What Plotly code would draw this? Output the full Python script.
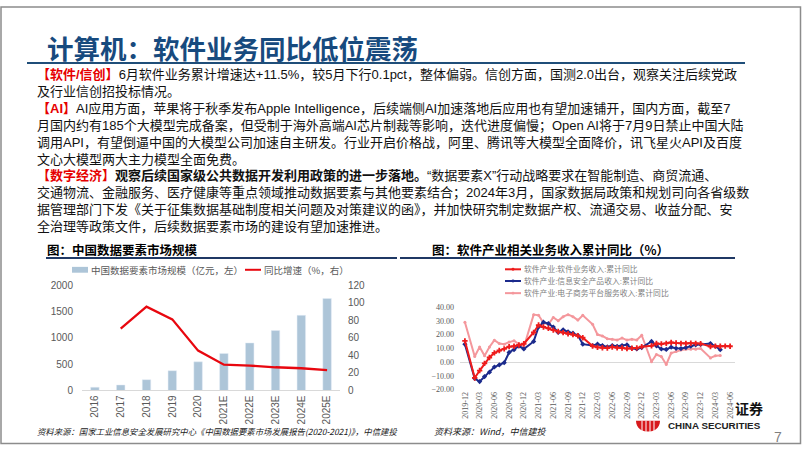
import plotly.graph_objects as go
import pandas as pd

W, H = 802, 451
def px(x): return x / W
def py(y): return 1 - y / H

# ---------------- data ----------------
years = ["2016", "2017", "2018", "2019", "2020", "2021E", "2022E", "2023E", "2024E", "2025E"]
market_size = [62, 105, 206, 377, 545, 705, 905, 1140, 1430, 1749]
yoy_growth = [None, 70.5, 95.7, 81.2, 45.5, 29.4, 28.4, 26.5, 25.4, 23.3]

months = [f"{p.year}-{p.month:02d}" for p in pd.period_range("2019-12", "2024-06", freq="M")]
soft_rev = [15.4,
            None, -11.6, -6.2, -1.0, 3.3, 6.7, 8.4, 9.6, 11.2, 11.5, 12.4, 13.3,
            None, 21.5, 26.9, 25.5, 24.6, 23.2, 22.2, 21.4, 20.6, 20.0, 19.1, 17.7,
            None, 11.6, 10.7, 10.4, 10.2, 10.9, 10.3, 10.2, 9.8, 10.0, 10.3, 11.2,
            None, 11.8, 13.5, 13.2, 13.6, 14.2, 13.8, 13.6, 13.5, 13.7, 13.6, 13.4,
            None, 11.3, 11.6, 11.5, 11.6, 11.5]
sec_rev = [13.0,
           None, -12.0, -14.2, -10.6, -7.4, -3.6, -2.1, -0.5, 7.0, 9.0, 11.5, 9.5,
           None, 15.0, 25.5, 29.0, 28.0, 25.5, 21.5, 23.5, 22.0, 21.0, 19.5, 13.0,
           None, 12.0, 13.0, 12.0, 11.0, 12.0, 11.5, 12.0, 12.5, 10.0, 9.5, 10.5,
           None, 15.0, 11.8, 9.5, 9.2, 10.8, 10.0, 9.8, 10.5, 11.5, 12.5, 12.8,
           None, 13.5, 11.5, 9.0, None, None]
ecom_rev = [28.9,
            None, 4.0, 11.0, 4.5, 11.0, 15.9, 13.5, 13.0, 14.5, 15.5, 13.0, 11.0,
            None, 34.5, 34.0, 28.5, 27.5, 32.5, 30.0, 33.0, 34.5, 33.0, 30.5, 34.0,
            None, 27.5, 20.0, 19.0, 17.0, 16.5, 16.0, 17.5, 16.0, 16.5, 16.0, 19.5,
            None, 0.2, 5.5, 4.0, -1.8, 6.5, 7.6, 8.8, 9.3, 9.3, 9.3, 9.8,
            None, 3.0, 4.5, 4.7, None, None]

series_names = ["软件产业:软件业务收入:累计同比", "软件产业:信息安全产品收入:累计同比", "软件产业:电子商务平台服务收入:累计同比"]
series_colors = ["#ee1c1c", "#1b2a8c", "#f4979c"]

BAR_C = "#adc5d8"
LINE_C = "#e8070f"
CJK = "Noto Sans CJK SC"
BODY_FONT = "Liberation Sans, Noto Sans CJK SC"

fig = go.Figure()

# ---------------- left chart ----------------
fig.add_trace(go.Bar(x=years, y=market_size, marker_color=BAR_C, width=0.33,
                     xaxis="x", yaxis="y", name="中国数据要素市场规模（亿元，左）"))
fig.add_trace(go.Scatter(x=years, y=yoy_growth, mode="lines", line=dict(color=LINE_C, width=2.3),
                         xaxis="x", yaxis="y2", name="同比增速（%，右）"))

# ---------------- right chart ----------------
vals = [soft_rev, sec_rev, ecom_rev]
symbols = ["cross", "diamond", "circle"]
sizes = [4.5, 4, 3]
for i in [2, 1, 0]:
    fig.add_trace(go.Scatter(x=months, y=vals[i], mode="lines+markers", connectgaps=True,
                             line=dict(color=series_colors[i], width=2),
                             marker=dict(symbol=symbols[i], size=sizes[i], color=series_colors[i]),
                             xaxis="x3", yaxis="y3", name=series_names[i]))

tick_gray = "#595959"
fig.update_layout(
    width=W, height=H, margin=dict(l=0, r=0, t=0, b=0), autosize=False,
    paper_bgcolor="white", plot_bgcolor="white", showlegend=False,
    xaxis=dict(domain=[px(82), px(340)], type="category", tickangle=-90,
               tickfont=dict(size=10, color=tick_gray, family="Liberation Sans"),
               showline=True, linecolor="#d9d9d9", linewidth=1, ticks="", showgrid=False,
               anchor="y", fixedrange=True),
    yaxis=dict(domain=[py(395), py(287)], range=[0, 2000], dtick=500, showgrid=False,
               zeroline=False, showline=False, ticklabelstandoff=8,
               tickfont=dict(size=10, color=tick_gray, family="Liberation Sans"), anchor="x"),
    yaxis2=dict(domain=[py(395), py(287)], range=[0, 120], dtick=20, overlaying="y", side="right",
                showgrid=False, zeroline=False, showline=False, ticklabelstandoff=7,
                tickfont=dict(size=10, color=tick_gray, family="Liberation Sans"), anchor="x"),
    xaxis3=dict(domain=[px(460), px(735)], type="category", categoryorder="array",
                categoryarray=months, tickvals=months[::3], range=[-1, 55], tickangle=-90,
                tickfont=dict(size=8, color=tick_gray, family="Liberation Serif"),
                showline=False, showgrid=False, ticks="", anchor="y3"),
    yaxis3=dict(domain=[py(394), py(309.3)], range=[-20, 40], dtick=10, tickformat=".2f",
                showgrid=False, zeroline=True, zerolinecolor="#d9d9d9", zerolinewidth=1,
                showline=False, ticklabelstandoff=5,
                tickfont=dict(size=8, color=tick_gray, family="Liberation Serif"), anchor="x3"),
)

shapes = []
ann = []

def text(x, y, s, size=13.5, color="black", anchor="left", family=CJK, yanchor="middle", **kw):
    ann.append(dict(x=px(x), y=py(y), xref="paper", yref="paper", text=s, showarrow=False,
                    xanchor=anchor, yanchor=yanchor, align="left", borderpad=0,
                    font=dict(size=size, color=color, family=family), **kw))

def hline(x0, x1, y, color, width):
    shapes.append(dict(type="line", xref="paper", yref="paper", x0=px(x0), x1=px(x1), y0=py(y), y1=py(y),
                       line=dict(color=color, width=width)))

# frame
shapes.append(dict(type="rect", xref="paper", yref="paper", x0=px(1), x1=px(800.5), y0=py(449.5), y1=py(1),
                   line=dict(color="#8c8c8c", width=1.5)))

# title
text(46, 43, "<b>计算机：软件业务同比低位震荡</b>", size=26.5, color="#174a7e")
hline(27, 745, 58.5, "#1f4e79", 2)

RED = "#e60000"
def r(s): return f"<span style='color:{RED}'><b>{s}</b></span>"

BODY_FS = 13
LH = BODY_FS * 1.3
body_lines = [
    r("【软件/信创】") + "6月软件业务累计增速达+11.5%，较5月下行0.1pct，整体偏弱。信创方面，国测2.0出台，观察关注后续党政",
    "及行业信创招投标情况。",
    r("【AI】") + "AI应用方面，苹果将于秋季发布Apple Intelligence，后续端侧AI加速落地后应用也有望加速铺开，国内方面，截至7",
    "月国内约有185个大模型完成备案，但受制于海外高端AI芯片制裁等影响，迭代进度偏慢；Open AI将于7月9日禁止中国大陆",
    "调用API，有望倒逼中国的大模型公司加速自主研发。行业开启价格战，阿里、腾讯等大模型全面降价，讯飞星火API及百度",
    "文心大模型两大主力模型全面免费。",
    r("【数字经济】") + "<b>观察后续国家级公共数据开发利用政策的进一步落地。</b>“数据要素X”行动战略要求在智能制造、商贸流通、",
    "交通物流、金融服务、医疗健康等重点领域推动数据要素与其他要素结合；2024年3月，国家数据局政策和规划司向各省级数",
    "据管理部门下发《关于征集数据基础制度相关问题及对策建议的函》，并加快研究制定数据产权、流通交易、收益分配、安",
    "全治理等政策文件，后续数据要素市场的建设有望加速推进。",
]
first_y = 72
yc = first_y + (len(body_lines) - 1) * LH / 2
text(36, yc, "<br>".join(body_lines), size=BODY_FS, color="#111111", family=BODY_FONT)

# chart headings
text(46, 250, "<b>图：中国数据要素市场规模</b>", size=12.5)
text(431, 250, "<b>图：软件产业相关业务收入累计同比（%）</b>", size=12.5)
hline(46, 397, 259, "#1f3864", 2)
hline(400, 735, 259, "#1f3864", 2)

# left legend
shapes.append(dict(type="rect", xref="paper", yref="paper", x0=px(72), x1=px(88), y0=py(274), y1=py(268),
                   fillcolor=BAR_C, line=dict(width=0)))
text(90, 271, "中国数据要素市场规模（亿元，左）", size=9.5, color=tick_gray)
hline(245, 261, 271, LINE_C, 2)
text(263, 271, "同比增速（%，右）", size=9.5, color=tick_gray)

# right legend
for i, yy in enumerate([270.5, 282.5, 295]):
    hline(505, 521, yy, series_colors[i], 2)
    shapes.append(dict(type="circle", xref="paper", yref="paper", x0=px(511.5), x1=px(514.5),
                       y0=py(yy + 1.5), y1=py(yy - 1.5), fillcolor=series_colors[i], line=dict(width=0)))
    text(523, yy, series_names[i], size=7.8, color="#7f7f7f", family=BODY_FONT)

# sources
text(36, 437, "<i>资料来源：国家工业信息安全发展研究中心《中国数据要素市场发展报告(2020-2021)》，中信建投</i>",
     size=8.4, color="#222222")
text(433, 437, "<i>资料来源：Wind，中信建投</i>", size=9, color="#222222")

# logo
text(764, 413, "<b>证券</b>", size=14, color="#111111", anchor="right", family=CJK)
shapes.append(dict(type="path", xref="paper", yref="paper",
                   path=f"M {px(636)},{py(426)} L {px(660)},{py(426)} C {px(660)},{py(441)} {px(636)},{py(441)} {px(636)},{py(426)} Z",
                   fillcolor="#d7191c", line=dict(width=0)))
for xx in [642, 646, 650, 654]:
    shapes.append(dict(type="line", xref="paper", yref="paper", x0=px(xx), x1=px(xx), y0=py(426), y1=py(440),
                       line=dict(color="white", width=1)))
text(667, 431, "<b>CHINA SECURITIES</b>", size=9.8, color="#222222", family="Liberation Sans")
text(778, 443, "7", size=14, color="#7f7f7f", anchor="center", family="Liberation Sans")

fig.update_layout(shapes=shapes, annotations=ann)
fig.write_html("out.html")
